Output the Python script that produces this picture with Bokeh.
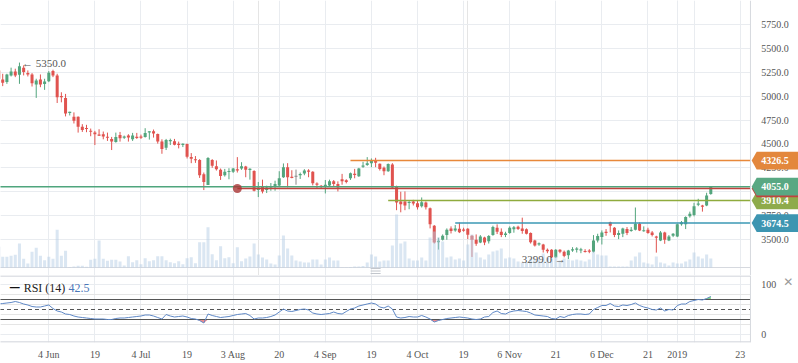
import numpy as np
from bokeh.plotting import figure
from bokeh.layouts import column
from bokeh.models import (ColumnDataSource, Range1d, FixedTicker, Grid, Span, Label)
from bokeh.core.properties import value
from bokeh.embed import file_html
from bokeh.resources import INLINE

# ---------------- data (one candle per trading day, bar 0 = 4 Jun) ----------------
opens = [5268, 5174, 5146, 5216, 5258, 5223, 5297, 5240, 5226, 5121,
         5174, 5125, 5156, 5261, 5216, 4998, 4981, 4826, 4784, 4784,
         4679, 4665, 4637, 4619, 4595, 4602, 4574, 4553, 4521, 4595,
         4567, 4588, 4549, 4574, 4577, 4574, 4623, 4633, 4605, 4525,
         4461, 4532, 4528, 4500, 4493, 4500, 4363, 4339, 4332, 4184,
         4072, 4332, 4268, 4230, 4174, 4209, 4209, 4237, 4244, 4265,
         4230, 4219, 4019, 4054, 4019, 4047, 4061, 4068, 4153, 4258,
         4156, 4163, 4174, 4191, 4223, 4209, 4086, 4061, 4061, 4068,
         4110, 4082, 4132, 4121, 4142, 4188, 4163, 4265, 4282, 4300,
         4332, 4293, 4251, 4216, 4286, 4058, 3900, 3900, 3886, 3900,
         3882, 3851, 3889, 3830, 3647, 3475, 3500, 3549, 3619, 3598,
         3615, 3608, 3615, 3542, 3500, 3472, 3525, 3486, 3549, 3626,
         3584, 3549, 3570, 3609, 3637, 3619, 3609, 3570, 3493, 3451,
         3451, 3395, 3395, 3317, 3395, 3374, 3339, 3388, 3395, 3388,
         3381, 3388, 3374, 3493, 3528, 3584, 3682, 3626, 3549, 3563,
         3612, 3591, 3605, 3668, 3591, 3605, 3577, 3535, 3493, 3577,
         3493, 3542, 3535, 3661, 3661, 3745, 3760, 3865, 3858, 3858, 3977]
highs = [5275, 5233, 5233, 5297, 5286, 5350, 5321, 5268, 5240, 5181,
         5226, 5181, 5261, 5275, 5233, 5040, 5023, 4837, 4830, 4788,
         4707, 4700, 4661, 4637, 4654, 4630, 4619, 4574, 4619, 4626,
         4588, 4602, 4616, 4616, 4598, 4665, 4633, 4651, 4609, 4549,
         4553, 4556, 4553, 4525, 4507, 4504, 4405, 4374, 4342, 4202,
         4363, 4342, 4328, 4244, 4240, 4247, 4251, 4363, 4310, 4272,
         4247, 4226, 4103, 4128, 4065, 4093, 4117, 4216, 4297, 4300,
         4226, 4233, 4202, 4237, 4237, 4216, 4100, 4072, 4124, 4128,
         4124, 4110, 4188, 4132, 4202, 4240, 4251, 4314, 4363, 4349,
         4356, 4297, 4265, 4297, 4300, 4065, 4002, 4005, 3907, 3917,
         3907, 3942, 3900, 3837, 3654, 3521, 3556, 3619, 3640, 3654,
         3679, 3626, 3622, 3549, 3556, 3549, 3532, 3549, 3647, 3661,
         3619, 3584, 3640, 3644, 3647, 3731, 3619, 3577, 3500, 3472,
         3458, 3409, 3402, 3402, 3402, 3388, 3395, 3423, 3423, 3416,
         3402, 3402, 3549, 3563, 3598, 3612, 3689, 3633, 3598, 3626,
         3633, 3633, 3837, 3682, 3640, 3626, 3591, 3542, 3591, 3584,
         3549, 3570, 3668, 3696, 3745, 3794, 3886, 3928, 3865, 3991, 4058]
lows = [5110, 5104, 5128, 5205, 5198, 5128, 5216, 5205, 5100, 4981,
        5093, 5065, 5146, 5198, 4928, 4935, 4788, 4798, 4714, 4619,
        4626, 4623, 4581, 4489, 4584, 4549, 4532, 4437, 4514, 4525,
        4553, 4525, 4532, 4553, 4553, 4567, 4546, 4567, 4504, 4398,
        4437, 4489, 4486, 4454, 4468, 4349, 4300, 4303, 4146, 4019,
        4072, 4251, 4223, 4125, 4160, 4132, 4198, 4202, 4230, 4153,
        4128, 4005, 3946, 3984, 3988, 4012, 4012, 4058, 4146, 4047,
        4142, 4075, 4135, 4174, 4153, 4068, 4040, 4033, 3984, 4054,
        4061, 4005, 4075, 4089, 4125, 4142, 4156, 4251, 4272, 4258,
        4258, 4223, 4174, 4209, 4040, 3809, 3787, 3809, 3819, 3858,
        3816, 3837, 3816, 3619, 3461, 3398, 3493, 3500, 3566, 3584,
        3570, 3584, 3507, 3321, 3437, 3465, 3444, 3461, 3542, 3560,
        3528, 3528, 3563, 3574, 3602, 3563, 3556, 3461, 3430, 3437,
        3367, 3360, 3310, 3310, 3360, 3317, 3299, 3374, 3367, 3360,
        3367, 3360, 3367, 3472, 3451, 3542, 3577, 3528, 3507, 3528,
        3549, 3584, 3598, 3591, 3584, 3563, 3535, 3366, 3486, 3458,
        3486, 3528, 3528, 3647, 3612, 3731, 3745, 3851, 3794, 3851, 3970]
closes = [5181, 5139, 5226, 5258, 5216, 5311, 5251, 5226, 5135, 5163,
          5121, 5153, 5244, 5216, 4988, 4991, 4819, 4833, 4742, 4679,
          4647, 4658, 4630, 4602, 4591, 4577, 4567, 4525, 4574, 4560,
          4577, 4567, 4588, 4563, 4567, 4616, 4630, 4609, 4525, 4447,
          4542, 4539, 4493, 4493, 4500, 4367, 4346, 4332, 4174, 4103,
          4353, 4272, 4237, 4167, 4209, 4216, 4244, 4223, 4268, 4230,
          4240, 4012, 4047, 4005, 4047, 4061, 4082, 4142, 4258, 4153,
          4146, 4163, 4188, 4223, 4209, 4089, 4075, 4054, 4075, 4110,
          4082, 4047, 4110, 4103, 4195, 4177, 4244, 4272, 4300, 4328,
          4304, 4240, 4216, 4290, 4047, 3889, 3872, 3858, 3893, 3879,
          3840, 3893, 3840, 3661, 3472, 3489, 3542, 3605, 3591, 3619,
          3580, 3594, 3552, 3500, 3458, 3535, 3472, 3539, 3633, 3584,
          3549, 3567, 3626, 3630, 3612, 3591, 3563, 3475, 3440, 3465,
          3395, 3381, 3317, 3395, 3374, 3332, 3388, 3402, 3409, 3402,
          3374, 3374, 3493, 3539, 3577, 3570, 3647, 3549, 3570, 3619,
          3570, 3605, 3668, 3598, 3598, 3570, 3549, 3521, 3577, 3500,
          3535, 3563, 3661, 3682, 3738, 3773, 3851, 3879, 3844, 3963, 4055]
volumes = [207, 107, 107, 117, 127, 240, 87, 40, 157, 197,
           117, 73, 107, 87, 377, 117, 167, 5, 10, 17,
           17, 7, 77, 87, 270, 87, 67, 77, 77, 60,
           20, 113, 53, 73, 33, 93, 63, 73, 113, 113,
           73, 53, 43, 63, 33, 93, 103, 43, 253, 253,
           403, 133, 73, 213, 93, 103, 43, 203, 63, 90,
           110, 240, 130, 100, 80, 40, 30, 120, 320, 190,
           120, 70, 60, 50, 50, 80, 80, 30, 80, 100,
           70, 70, 3, 3, 5, 10, 10, 15, 50, 130,
           110, 60, 70, 70, 220, 530, 240, 260, 90, 70,
           70, 100, 70, 300, 360, 300, 260, 100, 110, 80,
           90, 70, 230, 330, 150, 100, 80, 130, 160, 170,
           190, 90, 100, 90, 60, 50, 50, 90, 90, 80,
           140, 100, 90, 110, 70, 90, 80, 70, 80, 70,
           60, 80, 160, 130, 120, 120, 10, 10, 10, 10,
           10, 70, 110, 150, 50, 40, 30, 110, 50, 40,
           20, 50, 40, 40, 60, 80, 150, 110, 90, 130, 90]
rsi = [61, 62, 63, 64, 66, 64, 61, 59, 56, 55,
       55, 57, 59, 52, 47, 45, 41, 40, 37, 35,
       34, 33, 32, 31, 31, 31, 30, 30, 32, 33,
       33, 34, 35, 36, 37, 39, 39, 37, 34, 31,
       40, 37, 35, 36, 37, 35, 32, 31, 28, 23,
       41, 38, 36, 34, 35, 36, 38, 40, 41, 42,
       38, 31, 33, 33, 34, 36, 39, 45, 51, 47,
       46, 48, 50, 51, 49, 43, 41, 40, 41, 42,
       45, 42, 41, 46, 51, 53, 57, 59, 61, 63,
       61, 55, 53, 57, 51, 35, 33, 34, 36, 35,
       35, 38, 35, 31, 25, 28, 30, 32, 33, 34,
       35, 34, 33, 31, 30, 31, 35, 36, 44, 47,
       42, 41, 45, 47, 48, 47, 46, 43, 39, 38,
       37, 36, 32, 31, 36, 34, 38, 40, 41, 41,
       40, 41, 50, 54, 58, 58, 62, 57, 56, 59,
       58, 60, 63, 58, 55, 53, 50, 49, 53, 47,
       50, 49, 58, 61, 61, 66, 68, 70, 69, 72, 76]
first_bar = -12  # first candle sits 12 bars before 4 Jun

tick_bars = [0, 11, 22, 33, 44, 55, 66, 77, 88, 99, 110, 121, 132, 143, 150, 154, 165]
tick_labels = ["4 Jun", "19", "4 Jul", "19", "3 Aug", "20", "4 Sep", "19", "4 Oct",
               "19", "6 Nov", "21", "6 Dec", "21", "2019", "", "23"]
price_ticks = [3500, 3750, 4000, 4250, 4500, 4750, 5000, 5250, 5500, 5750]
rsi_ticks = [0, 100]

level_values = [4326.5, 4055.0, 4035.0, 3910.4, 3674.5]
level_start = [72, -20, 45, 81, 97]
level_colors = ["#e8883a", "#4fa57d", "#c0433f", "#8fab3d", "#3b98b5"]
badge_values = [3910.4, 4035.0, 4055.0, 4326.5, 3674.5]
badge_texts = ["3910.4", "", "4055.0", "4326.5", "3674.5"]
badge_colors = ["#8eab4b", "#c0433f", "#59a883", "#e3873c", "#3d95b1"]
rsi_levels = [70, 30]
rsi_mid = 50
rsi_shown = "42.5"

# ---------------- styling ----------------
GREEN = "#53a57d"
RED = "#e0534f"
GRAY = "#8a8a8a"
GRID = "#e9ecf0"
BORDER = "#d6d9df"
SERIF = "Liberation Serif"
XB = 167.47      # right edge of the chart panes (scale strip to the right)
XLAB = 170.05    # left edge of the scale labels

n = len(opens)
idx = np.arange(n) + first_bar
o = np.array(opens, float)
c = np.array(closes, float)
colors = np.where(c > o, GREEN, np.where(c < o, RED, GRAY))
mid = (o + c) / 2
half = np.maximum(np.abs(c - o) / 2, 6)

src = ColumnDataSource(dict(x=idx, h=highs, l=lows, top=mid + half, bottom=mid - half,
                            color=colors, vol=volumes))

xr = Range1d(-11.527, 178.93)
xt = FixedTicker(ticks=tick_bars)

# ---------------- price pane ----------------
p = figure(x_range=xr, y_range=Range1d(3127.3, 5997.9), frame_width=798, frame_height=275,
           min_border_left=0, min_border_right=0, min_border_top=0, min_border_bottom=0,
           x_axis_location=None, y_axis_location=None, output_backend="svg",
           toolbar_location=None, background_fill_color="white", border_fill_color="white")
p.outline_line_color = None
p.extra_y_ranges = {"vol": Range1d(-80, 2670)}
p.add_layout(Grid(dimension=0, ticker=xt, grid_line_color=GRID))
p.add_layout(Grid(dimension=1, ticker=FixedTicker(ticks=price_ticks), grid_line_color=GRID))

# white scale strip
p.quad(left=XB, right=200, bottom=0, top=9000, fill_color="white", line_color=None)

# volume baseline
p.segment(x0=-20, y0=0, x1=XB, y1=0, line_color=BORDER, line_width=1, y_range_name="vol")

# candles
p.segment(x0="x", y0="l", x1="x", y1="h", line_color="color", line_width=1, source=src)
p.vbar(x="x", top="top", bottom="bottom", width=0.72, fill_color="color", line_color=None, source=src)

# volume (semi-transparent, above candles)
p.vbar(x="x", top="vol", bottom=0, width=0.72, fill_color="#b6cde6", fill_alpha=0.5,
       line_color=None, y_range_name="vol", source=src)

# drawn horizontal levels
p.segment(x0=level_start, y0=level_values, x1=[XB] * len(level_values), y1=level_values,
          line_color=level_colors, line_width=1.5)
p.scatter(x=[level_start[2]], y=[level_values[2]], size=9, fill_color="#a93434",
          line_color=None, fill_alpha=0.8)

# pane handle
p.segment(x0=[76.8] * 3, x1=[79.2] * 3, y0=[3200, 3174, 3148], y1=[3200, 3174, 3148],
          line_color="#c2c6cc", line_width=1)

# high / low markers
ih = int(np.argmax(highs))
il = int(np.argmin(lows))
p.add_layout(Label(x=idx[ih] + 0.6, y=highs[ih], text="\u2190 %.1f" % highs[ih],
                   text_align="left", text_baseline="middle", text_font=SERIF,
                   text_font_size="11px", text_color="#555555"))
p.add_layout(Label(x=idx[il] - 0.6, y=lows[il], text="%.1f \u2192" % lows[il],
                   text_align="right", text_baseline="middle", text_font=SERIF,
                   text_font_size="11px", text_color="#555555"))

# price scale labels
shown_ticks = [t for t in price_ticks if t != 4000]
p.text(x=[XLAB] * len(shown_ticks), y=shown_ticks, text=["%.1f" % t for t in shown_ticks],
       text_font=value(SERIF), text_font_size=value("10px"), text_color="#555555",
       text_align="left", text_baseline="middle")

# price badges
BH = 92
for v, t, col in zip(badge_values, badge_texts, badge_colors):
    p.patches(xs=[[167.75, 168.95, 181, 181, 168.95]],
              ys=[[v, v + BH, v + BH, v - BH, v - BH]],
              fill_color=col, line_color=None)
    if t:
        p.text(x=[XLAB], y=[v], text=[t], text_font=value(SERIF), text_font_size=value("10px"),
               text_font_style="bold", text_color="white", text_align="left",
               text_baseline="middle")

p.add_layout(Span(location=XB, dimension="height", line_color=BORDER, line_width=1))

# ---------------- RSI pane ----------------
q = figure(x_range=xr, y_range=Range1d(-16, 118), frame_width=798, frame_height=67,
           min_border_left=0, min_border_right=0, min_border_top=0, min_border_bottom=21,
           y_axis_location=None, output_backend="svg", toolbar_location=None,
           background_fill_color="white", border_fill_color="white")
q.outline_line_color = None

xa = q.xaxis[0]
xa.ticker = xt
xa.major_label_overrides = dict(zip(tick_bars, tick_labels))
xa.major_tick_out = 0
xa.major_tick_in = 0
xa.minor_tick_out = 0
xa.minor_tick_in = 0
xa.axis_line_color = None
xa.major_label_standoff = 6
xa.major_label_text_font = SERIF
xa.major_label_text_font_size = "10px"
xa.major_label_text_color = "#555555"
q.xgrid.ticker = xt
q.xgrid.grid_line_color = GRID
q.add_layout(Grid(dimension=1, ticker=FixedTicker(ticks=rsi_ticks), grid_line_color=GRID))

q.quad(left=XB, right=200, bottom=-50, top=200, fill_color="white", line_color=None)
# pane borders (top separator / bottom edge)
q.segment(x0=[-20, -20], x1=[XB, XB], y0=[117.0, -15.0], y1=[117.0, -15.0],
          line_color=BORDER, line_width=1.5)

r = np.array(rsi, float)
q.varea(x=idx, y1=rsi_levels[1], y2=np.minimum(r, rsi_levels[1]), fill_color="#f08b8b")
q.varea(x=idx, y1=rsi_levels[0], y2=np.maximum(r, rsi_levels[0]), fill_color="#7fd47f")
q.segment(x0=[-20] * 2, x1=[XB] * 2, y0=rsi_levels, y1=rsi_levels, line_color="#555555",
          line_width=1)
q.segment(x0=[-20], x1=[XB], y0=[rsi_mid], y1=[rsi_mid], line_color="#555555", line_width=1,
          line_dash="4 3")
q.line(idx, r, line_color="#5f88c6", line_width=1)

q.text(x=[XLAB] * len(rsi_ticks), y=rsi_ticks, text=[str(t) for t in rsi_ticks],
       text_font=value(SERIF), text_font_size=value("10px"), text_color="#555555",
       text_align="left", text_baseline="middle")
q.text(x=[176.5], y=[106], text=["\u2715"], text_font=value("DejaVu Sans"),
       text_font_size=value("12px"), text_color="#9a9a9a", text_align="center",
       text_baseline="middle")
q.add_layout(Span(location=XB, dimension="height", line_color=BORDER, line_width=1))

q.add_layout(Label(x=-9.45, y=94, text="\u2014", text_align="left", text_baseline="middle",
                   text_font="DejaVu Sans", text_font_size="11px", text_font_style="bold",
                   text_color="#111111"))
q.add_layout(Label(x=-6.0, y=94, text="RSI (14)", text_align="left", text_baseline="middle",
                   text_font=SERIF, text_font_size="12px", text_color="#222222"))
q.add_layout(Label(x=4.7, y=94, text=rsi_shown, text_align="left", text_baseline="middle",
                   text_font=SERIF, text_font_size="12px", text_color="#4a76b8"))

layout = column(p, q, spacing=0)
open("out.html", "w").write(file_html(layout, INLINE))
